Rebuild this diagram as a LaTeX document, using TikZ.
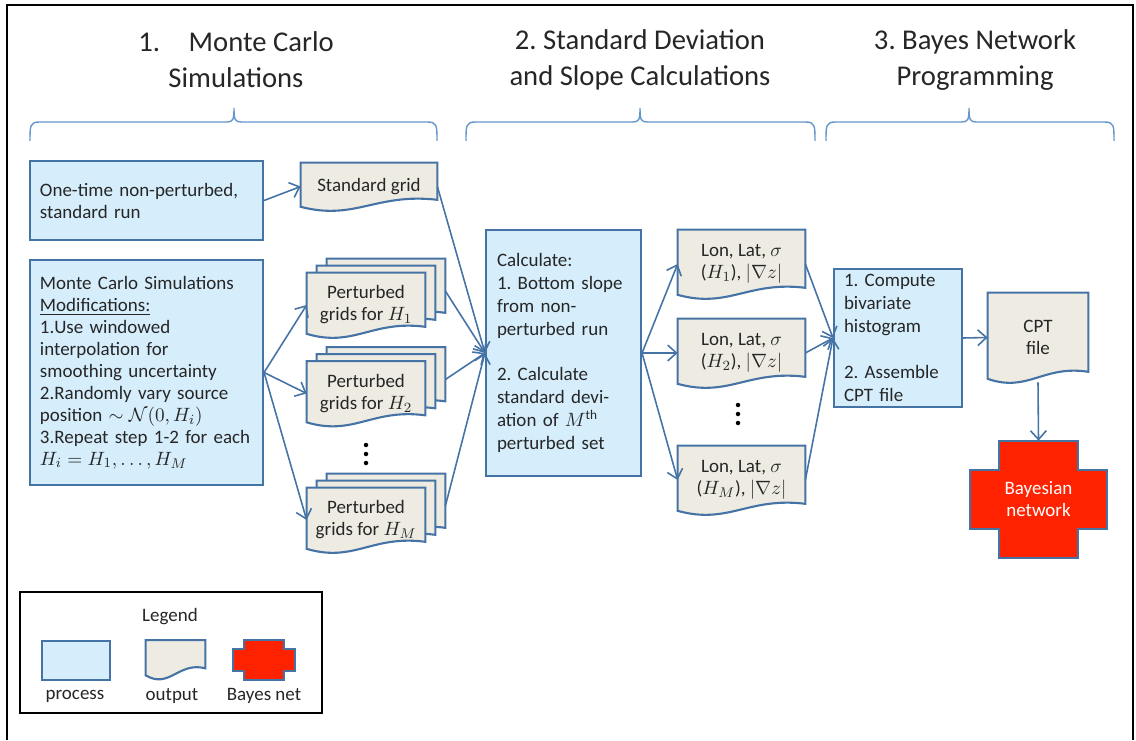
\documentclass[tikz,border=0pt]{standalone}
\usepackage{fontspec}
\setmainfont{Carlito}
\usetikzlibrary{calc,arrows.meta}
\pgfdeclarelayer{background}
\pgfsetlayers{background,main}
\frenchspacing
\definecolor{procfill}{RGB}{214,238,252}
\definecolor{outfill}{RGB}{238,236,226}
\definecolor{edgeblue}{RGB}{70,115,165}
\definecolor{braceblue}{RGB}{100,150,205}
\definecolor{netred}{RGB}{255,34,0}
\definecolor{txt}{RGB}{38,38,38}
% output sheet with a wavy bottom, drawn round a node
\newcommand\outshape[1]{%
  \filldraw[docline] (#1.north west) -- (#1.north east) -- ([yshift=6pt]#1.south east)
    .. controls ($(#1.south east)!0.45!(#1.south west)+(0,10pt)$) and ($(#1.south east)!0.6!(#1.south west)+(0,-6pt)$) .. ([yshift=2pt]#1.south west) -- cycle;}
% cross shape for the Bayes net
\newcommand\netshape[3]{%
  \filldraw[netline] ([xshift=#2]#1.north west) -- ([xshift=-#2]#1.north east) -- ([xshift=-#2,yshift=-#3]#1.north east)
    -- ([yshift=-#3]#1.north east) -- ([yshift=#3]#1.south east) -- ([xshift=-#2,yshift=#3]#1.south east)
    -- ([xshift=-#2]#1.south east) -- ([xshift=#2]#1.south west) -- ([xshift=#2,yshift=#3]#1.south west)
    -- ([yshift=#3]#1.south west) -- ([yshift=-#3]#1.north west) -- ([xshift=#2,yshift=-#3]#1.north west) -- cycle;}
\begin{document}
\begin{tikzpicture}[>={Straight Barb[length=5pt,width=9pt]},
  proc/.style={draw=edgeblue,fill=procfill,line width=1.2pt,text=txt,align=left,inner xsep=0.2cm,font=\fontsize{10.8}{12.5}\selectfont},
  outbox/.style={rectangle,inner sep=0pt,text=txt,align=center,font=\fontsize{10.8}{12.5}\selectfont},
  gridbox/.style={outbox,minimum width=2.36cm,minimum height=1.28cm},
  lonbox/.style={outbox,minimum width=2.54cm,minimum height=1.36cm},
  netbox/.style={rectangle,inner sep=0pt,text=white,align=center,font=\fontsize{10.8}{12.5}\selectfont},
  docline/.style={draw=edgeblue,fill=outfill,line width=1.2pt},
  netline/.style={draw=edgeblue,fill=netred,line width=1.2pt},
  link/.style={->,draw=edgeblue,line width=0.9pt},
  secbrace/.style={draw=braceblue,line width=0.8pt},
  head/.style={text=txt,align=center,font=\fontsize{16.3}{20.5}\selectfont}]
\useasboundingbox (0,0) rectangle (22.72,14.8);
\draw[line width=1.2pt](0.14,0)--(0.14,14.7)--(22.66,14.7)--(22.66,0);

% headings
\node[head](h1) at (4.72,13.6){1.\quad Monte Carlo\\Simulations};
\node[head](h2) at (12.8,13.6){2. Standard Deviation\\and Slope Calculations};
\node[head](h3) at (19.5,13.6){3. Bayes Network\\Programming};
\foreach \a/\m/\b in {0.6/4.68/8.74,9.32/12.8/16.3,16.52/19.38/22.28}
  \draw[secbrace](\a,11.98) .. controls (\a,12.3) and (\a,12.36) .. (\a+0.2,12.36)--(\m-0.15,12.36)
    .. controls (\m-0.02,12.36) and (\m,12.4) .. (\m,12.64) .. controls (\m,12.4) and (\m+0.02,12.36) .. (\m+0.15,12.36)
    --(\b-0.2,12.36) .. controls (\b,12.36) and (\b,12.3) .. (\b,11.98);

% 1. Monte Carlo
\node[proc,text width=4.26cm,minimum height=1.58cm](p1) at (2.93,10.79){One-time non-perturbed,\\standard run};
\node[proc,text width=4.26cm,minimum height=4.5cm](p2) at (2.93,7.35){Monte Carlo Simulations\\\underline{Modifications:}\\1.Use windowed\\interpolation for\\smoothing uncertainty\\2.Randomly vary source\\position $\sim\mathcal{N}(0,H_i)$\\3.Repeat step 1-2 for each\\$H_i=H_1,\ldots,H_M$};
\node[outbox,minimum width=2.72cm,minimum height=0.94cm](sg) at (7.38,11.07){Standard grid};
\foreach \i/\y in {1/8.70,2/6.93,M/4.40}{
  \node[gridbox](g\i) at (7.32,\y){Perturbed\\grids for $H_\i$};
  \node[gridbox](g\i b) at ($(g\i)+(0.2,0.14)$){};
  \node[gridbox](g\i c) at ($(g\i)+(0.4,0.28)$){};
}
\foreach \y in {5.90,5.72,5.54} \fill[black](7.32,\y) circle (0.045);

% 2. deviation and slope
\node[proc,text width=2.66cm,inner xsep=0.22cm,minimum height=4.92cm,font=\fontsize{10.8}{13}\selectfont](calc) at (11.27,7.74){Calculate:\\1. Bottom slope\\from non-\\perturbed run\\[13pt]2. Calculate\\standard devi-\\ation of $M^{\mathrm{th}}$\\perturbed set};
\node[lonbox](l1) at (14.83,9.52){Lon, Lat, $\sigma$\\($H_1$), $|\nabla z|$};
\node[lonbox](l2) at (14.83,7.74){Lon, Lat, $\sigma$\\($H_2$), $|\nabla z|$};
\node[lonbox](l3) at (14.83,5.20){Lon, Lat, $\sigma$\\($H_M$), $|\nabla z|$};
\foreach \y in {6.70,6.52,6.34} \fill[black](14.76,\y) circle (0.045);

% 3. Bayes network
\node[proc,text width=2.16cm,inner xsep=0.2cm,minimum height=2.76cm,font=\fontsize{10.8}{13}\selectfont](bay) at (17.96,8.04){1. Compute\\bivariate\\histogram\\[13pt]2. Assemble\\CPT file};
\node[outbox,minimum width=2.0cm,minimum height=1.78cm](cpt) at (20.76,8.05){CPT\\file};
\node[netbox,minimum width=2.74cm,minimum height=2.34cm](bn) at (20.77,4.81){Bayesian\\network};

% legend
\node[draw=black,line width=1.2pt,minimum width=6.04cm,minimum height=2.42cm](leg) at (3.42,1.75){};
\node[outbox](legt) at (3.40,2.46){Legend};
\node[proc,minimum width=1.36cm,minimum height=0.78cm](lp) at (1.52,1.59){};
\node[outbox,minimum width=1.18cm,minimum height=0.76cm](lo) at (3.51,1.61){};
\node[netbox,minimum width=1.24cm,minimum height=0.80cm](lb) at (5.28,1.60){};
\node[outbox](lpt) at (1.50,0.88){process};
\node[outbox](lot) at (3.44,0.88){output};
\node[outbox](lbt) at (5.28,0.88){Bayes net};

\begin{pgfonlayer}{background}
\outshape{sg}
\foreach \i in {1,2,M}{\outshape{g\i c}\outshape{g\i b}\outshape{g\i}}
\outshape{l1}\outshape{l2}\outshape{l3}\outshape{cpt}\outshape{lo}
\netshape{bn}{0.58cm}{0.58cm}
\netshape{lb}{0.22cm}{0.19cm}
\end{pgfonlayer}

% arrows
\draw[link](p1.east)--(sg.west);
\foreach \i in {1,2,M}{
  \draw[link](p2.east)--(g\i.west);
  \draw[link](g\i c.east)--(calc.west);
}
\draw[link](sg.east)--(calc.west);
\foreach \i in {1,2,3}{
  \draw[link](calc.east)--(l\i.west);
  \draw[link](l\i.east)--(bay.west);
}
\draw[link](bay.east)--(cpt.west);
\draw[link](cpt.south)--(bn.north);

\end{tikzpicture}
\end{document}
